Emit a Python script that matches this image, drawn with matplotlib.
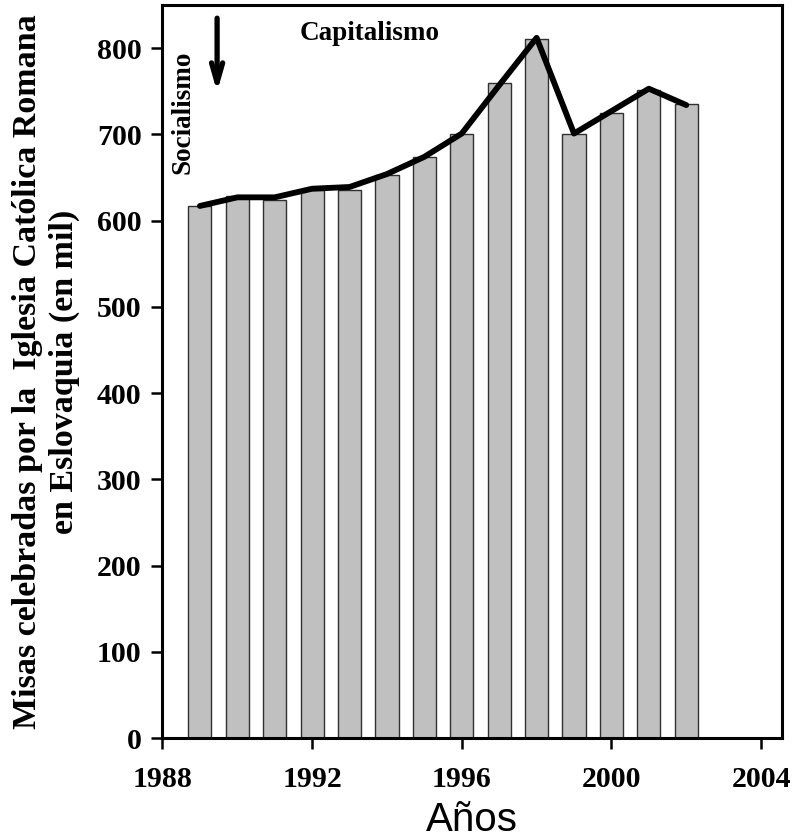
import matplotlib.pyplot as plt
import numpy as np

years = [1989, 1990, 1991, 1992, 1993, 1994, 1995, 1996, 1997, 1998, 1999, 2000, 2001, 2002]
bar_vals = [617, 628, 624, 635, 636, 653, 674, 700, 760, 811, 700, 725, 752, 735]
line_vals = [617, 627, 627, 637, 639, 654, 674, 701, 757, 812, 701, 727, 753, 734]

x_ticks = [1988, 1992, 1996, 2000, 2004]
y_ticks = [0, 100, 200, 300, 400, 500, 600, 700, 800]

serif = ['Liberation Serif', 'DejaVu Serif']
sans = ['Liberation Sans', 'DejaVu Sans']

fig = plt.figure(figsize=(7.98, 8.4), dpi=100)
ax = fig.add_axes([0.2036, 0.1214, 0.7764, 0.8726])

ax.bar(years, bar_vals, width=0.62, color='#c0c0c0', edgecolor='#303030', linewidth=1.0, zorder=2)
ax.plot(years, line_vals, color='black', linewidth=4.2, solid_capstyle='round', solid_joinstyle='round', zorder=3)

ax.set_xlim(1988, 2004.56)
ax.set_ylim(0, 850)
ax.set_xticks(x_ticks)
ax.set_yticks(y_ticks)
ax.set_xticklabels([str(t) for t in x_ticks], family=serif, fontweight='bold', fontsize=21.5)
ax.set_yticklabels([str(t) for t in y_ticks], family=serif, fontweight='bold', fontsize=21.5)
ax.tick_params(axis='both', direction='out', length=8, width=1.8)
ax.tick_params(axis='y', pad=7)
ax.tick_params(axis='x', pad=12)

for s in ax.spines.values():
    s.set_linewidth(2.2)

ax.set_xlabel('Años', family=sans, fontsize=29, labelpad=6)
ax.set_ylabel('Misas celebradas por la  Iglesia Católica Romana\nen Eslovaquia (en mil)',
              family=serif, fontweight='bold', fontsize=24.5, labelpad=12, linespacing=1.25)

ax.text(1993.55, 817, 'Capitalismo', family=serif, fontweight='bold', fontsize=19.5,
        ha='center', va='center')
ax.text(1988.55, 726, 'Socialismo', family=serif, fontweight='bold', fontsize=19.5,
        rotation=90, ha='center', va='center')
ax.annotate('', xy=(1989.46, 746), xytext=(1989.46, 838),
            arrowprops=dict(arrowstyle='->,head_length=1.4,head_width=0.4', lw=3.8, color='black'))

fig.savefig('out.png', dpi=100)
